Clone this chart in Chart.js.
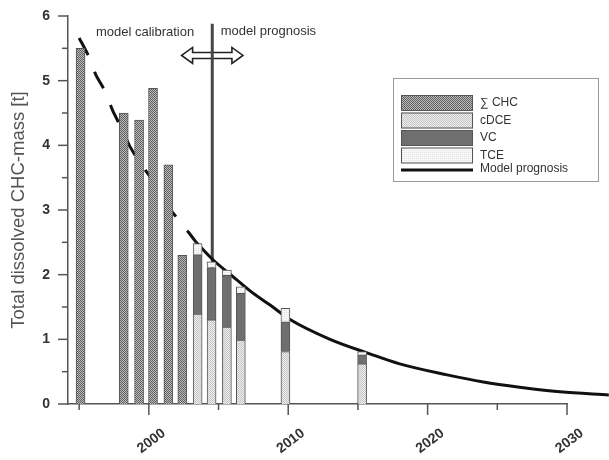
<!DOCTYPE html>
<html>
<head>
<meta charset="utf-8">
<script src="https://cdn.jsdelivr.net/npm/chart.js@4.4.1/dist/chart.umd.min.js"></script>
<style>
  html, body { margin: 0; padding: 0; background: #fff; }
  #wrap { width: 609px; height: 460px; }
</style>
</head>
<body>
<div id="wrap"><canvas id="chart" width="609" height="460"></canvas></div>
<script>
// Sum CHC bars (calibration period), year and mass [t]
const sumYears = [1995.1, 1998.2, 1999.3, 2000.3, 2001.4, 2002.4]
const sumValues = [5.5, 4.5, 4.39, 4.88, 3.7, 2.3]

// single compounds, stacked
const compYears = [2003.5, 2004.5, 2005.6, 2006.6, 2009.8, 2015.3]
const cdceValues = [1.39, 1.30, 1.19, 0.99, 0.81, 0.62]
const vcValues = [0.92, 0.81, 0.80, 0.72, 0.46, 0.14]
const tceValues = [0.17, 0.09, 0.08, 0.10, 0.21, 0.05]

// dashed calibration line
const calibYears = [1995.0, 1995.7, 1996.2, 1996.9, 1997.4, 1998.0, 1998.6, 1999.3, 2000.2, 2000.8, 2001.6, 2002.4, 2003.4]
const calibValues = [5.66, 5.37, 5.09, 4.82, 4.54, 4.28, 4.0, 3.75, 3.48, 3.26, 2.99, 2.78, 2.5]

// model prognosis curve
const progYears = [2003.4, 2004.5, 2006.2, 2007.5, 2008.7, 2010.1, 2013, 2015.8, 2018, 2021.4, 2024, 2026.6, 2029.5, 2033]
const progValues = [2.5, 2.25, 1.94, 1.71, 1.53, 1.31, 1.0, 0.78, 0.62, 0.45, 0.34, 0.26, 0.19, 0.14]

// start of prognosis (vertical line)
const splitYear = 2004.55
const splitTop = 5.88

const xTicks = [2000, 2010, 2020, 2030]
const xMinor = [1995, 2005, 2015, 2025]
const yTicks = [0, 1, 2, 3, 4, 5, 6]
const yMinor = [0.5, 1.5, 2.5, 3.5, 4.5, 5.5]

function pattern(bg, fg, dots) {
    var c = document.createElement('canvas')
    c.width = 2; c.height = 2
    var g = c.getContext('2d')
    g.fillStyle = bg
    g.fillRect(0, 0, 2, 2)
    g.fillStyle = fg
    for (let d of dots) g.fillRect(d[0], d[1], 1, 1)
    return g.createPattern(c, 'repeat')
}

const sumFill = pattern('#bdbdbd', '#5e5e5e', [[0, 0], [1, 1]])
const cdceFill = pattern('#eeeeee', '#c4c4c4', [[0, 0], [1, 1]])
const vcFill = '#6f6f6f'
const tceFill = pattern('#f8f8f8', '#e2e2e2', [[0, 0]])

function pts(xs, ys) {
    return xs.map((x, i) => ({x: x, y: ys[i]}))
}

const decor = {
    id: 'decor',
    beforeDatasetsDraw(chart) {
        const {ctx, scales: {x, y}} = chart
        // double arrow
        let x1 = x.getPixelForValue(2002.35), x2 = x.getPixelForValue(2006.75)
        let cy = y.getPixelForValue(5.39)
        let h = 8, s = 3, hw = 11
        ctx.save()
        ctx.beginPath()
        ctx.moveTo(x1, cy)
        ctx.lineTo(x1 + hw, cy - h)
        ctx.lineTo(x1 + hw, cy - s)
        ctx.lineTo(x2 - hw, cy - s)
        ctx.lineTo(x2 - hw, cy - h)
        ctx.lineTo(x2, cy)
        ctx.lineTo(x2 - hw, cy + h)
        ctx.lineTo(x2 - hw, cy + s)
        ctx.lineTo(x1 + hw, cy + s)
        ctx.lineTo(x1 + hw, cy + h)
        ctx.closePath()
        ctx.fillStyle = '#fff'
        ctx.fill()
        ctx.lineWidth = 1.6
        ctx.strokeStyle = '#222'
        ctx.stroke()

        ctx.font = '13px "Liberation Sans", Arial, sans-serif'
        ctx.fillStyle = '#333'
        ctx.textBaseline = 'middle'
        ctx.textAlign = 'left'
        ctx.fillText('model calibration', x.getPixelForValue(1996.2), y.getPixelForValue(5.74))
        ctx.fillText('model prognosis', x.getPixelForValue(2005.15), y.getPixelForValue(5.76))
        ctx.restore()
    },
    afterDraw(chart) {
        const {ctx, scales: {x, y}, chartArea} = chart
        ctx.save()
        ctx.strokeStyle = '#555'
        ctx.lineWidth = 1.5
        function seg(ax, ay, bx, by) {
            ctx.beginPath(); ctx.moveTo(ax, ay); ctx.lineTo(bx, by); ctx.stroke()
        }
        for (let v of yTicks) { let p = y.getPixelForValue(v); seg(chartArea.left - 10, p, chartArea.left, p) }
        for (let v of yMinor) { let p = y.getPixelForValue(v); seg(chartArea.left - 6, p, chartArea.left, p) }
        for (let v of xTicks) { let p = x.getPixelForValue(v); seg(p, chartArea.bottom, p, chartArea.bottom + 11) }
        for (let v of xMinor) { let p = x.getPixelForValue(v); seg(p, chartArea.bottom, p, chartArea.bottom + 6) }

        // legend
        let lx = 393, ly = 78, lw = 205, lh = 103
        ctx.lineWidth = 1
        ctx.strokeStyle = '#9a9a9a'
        ctx.strokeRect(lx + 0.5, ly + 0.5, lw, lh)
        ctx.font = '12px "Liberation Sans", Arial, sans-serif'
        ctx.textBaseline = 'middle'
        ctx.textAlign = 'left'
        let ds = chart.data.datasets
        let order = [0, 1, 2, 3]
        let rowY = ly + 17
        for (let i of order) {
            ctx.fillStyle = ds[i].backgroundColor
            ctx.fillRect(lx + 8, rowY, 72, 16)
            ctx.strokeStyle = '#555'
            ctx.strokeRect(lx + 8.5, rowY + 0.5, 71, 15)
            ctx.fillStyle = '#333'
            ctx.fillText(ds[i].label, lx + 87, rowY + 8)
            rowY += 17.5
        }
        ctx.strokeStyle = '#111'
        ctx.lineWidth = 3
        seg(lx + 8, rowY + 5, lx + 80, rowY + 5)
        ctx.fillStyle = '#333'
        ctx.fillText(ds[5].label, lx + 87, rowY + 4)
        ctx.restore()
    }
}

var ctx = document.getElementById('chart').getContext('2d')
var grafico = new Chart(ctx, {
    type: 'bar',
    data: {
        datasets: [{
            label: '∑ CHC',
            data: pts(sumYears, sumValues),
            backgroundColor: sumFill,
            borderColor: '#555',
            borderWidth: 1,
            barThickness: 9
        }, {
            label: 'cDCE',
            data: pts(compYears, cdceValues),
            backgroundColor: cdceFill,
            borderColor: '#555',
            borderWidth: 1,
            barThickness: 9
        }, {
            label: 'VC',
            data: pts(compYears, vcValues),
            backgroundColor: vcFill,
            borderColor: '#555',
            borderWidth: 1,
            barThickness: 9
        }, {
            label: 'TCE',
            data: pts(compYears, tceValues),
            backgroundColor: tceFill,
            borderColor: '#555',
            borderWidth: 1,
            barThickness: 9
        }, {
            type: 'line',
            label: 'Calibration',
            stack: 'calib',
            data: pts(calibYears, calibValues),
            borderColor: '#111',
            borderWidth: 3,
            borderDash: [19, 18],
            pointRadius: 0,
            tension: 0.2
        }, {
            type: 'line',
            label: 'Model prognosis',
            stack: 'prog',
            data: pts(progYears, progValues),
            borderColor: '#111',
            borderWidth: 3,
            pointRadius: 0,
            cubicInterpolationMode: 'monotone',
            clip: false
        }, {
            type: 'line',
            label: 'split',
            stack: 'split',
            data: [{x: splitYear, y: 0}, {x: splitYear, y: splitTop}],
            borderColor: '#474747',
            borderWidth: 3,
            pointRadius: 0
        }]
    },
    options: {
        responsive: false,
        animation: false,
        layout: { padding: { top: 16, right: 42, left: 0, bottom: 0 } },
        plugins: {
            legend: { display: false },
            tooltip: { enabled: false }
        },
        scales: {
            x: {
                type: 'linear',
                stacked: true,
                offset: false,
                min: 1994.2,
                max: 2030,
                afterBuildTicks: (s) => { s.ticks = xTicks.map(v => ({value: v})) },
                afterFit: (s) => { s.height = 56 },
                grid: { display: false, drawTicks: false, offset: false },
                border: { color: '#555', width: 1.5 },
                ticks: {
                    minRotation: 37,
                    maxRotation: 37,
                    padding: 21,
                    labelOffset: 15,
                    color: '#333',
                    font: { family: '"Liberation Sans", Arial, sans-serif', size: 14, weight: 'bold' },
                    callback: (v) => String(v)
                }
            },
            y: {
                stacked: true,
                min: 0,
                max: 6,
                afterBuildTicks: (s) => { s.ticks = yTicks.map(v => ({value: v})) },
                afterFit: (s) => { s.width = 68 },
                grid: { display: false, drawTicks: true, tickLength: 18 },
                border: { color: '#555', width: 1.5 },
                ticks: {
                    padding: 0,
                    color: '#333',
                    font: { family: '"Liberation Sans", Arial, sans-serif', size: 14, weight: 'bold' }
                },
                title: {
                    display: true,
                    text: 'Total dissolved CHC-mass [t]',
                    color: '#555',
                    padding: { top: 8, bottom: 0 },
                    font: { family: '"Liberation Sans", Arial, sans-serif', size: 18.5 }
                }
            }
        }
    },
    plugins: [decor]
})
</script>
</body>
</html>
